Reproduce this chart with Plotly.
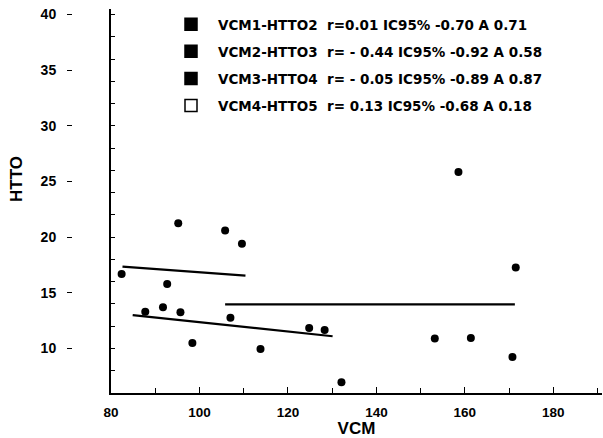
import plotly.graph_objects as go

# Scatter points (VCM, HTTO)
vcm = [82.4, 95.2, 105.8, 109.6, 92.7, 87.75, 91.75, 95.7, 107.0, 98.4,
       113.8, 124.8, 128.3, 132.1, 158.55, 171.5, 153.2, 161.35, 170.75]
htto = [16.7, 21.26, 20.6, 19.4, 15.8, 13.3, 13.7, 13.25, 12.75, 10.5,
        9.95, 11.85, 11.65, 6.96, 25.85, 17.27, 10.9, 10.95, 9.24]

# Regression lines (start/end)
line_a_x = [82.6, 110.4]
line_a_y = [17.35, 16.55]
line_b_x = [84.9, 130.1]
line_b_y = [13.0, 11.1]
line_c_x = [105.8, 171.3]
line_c_y = [13.97, 13.97]

NB = "\u00a0"
legend_labels = [
    f"VCM1-HTTO2{NB}{NB}r=0.01 IC95% -0.70 A 0.71",
    f"VCM2-HTTO3{NB}{NB}r= - 0.44 IC95% -0.92 A 0.58",
    f"VCM3-HTTO4{NB}{NB}r= - 0.05 IC95% -0.89 A 0.87",
    f"VCM4-HTTO5{NB}{NB}r= 0.13 IC95% -0.68 A 0.18",
]
legend_symbols = ["square", "square", "square", "square-open"]

y_ticks = [10, 15, 20, 25, 30, 35, 40]
x_ticks = [80, 100, 120, 140, 160, 180]

FONT = "Liberation Sans"
LFONT = "DejaVu Sans"
fig = go.Figure()

for lx, ly in [(line_a_x, line_a_y), (line_b_x, line_b_y), (line_c_x, line_c_y)]:
    fig.add_trace(go.Scatter(x=lx, y=ly, mode="lines", line=dict(color="black", width=2.2),
                             showlegend=False, hoverinfo="skip"))

fig.add_trace(go.Scatter(x=vcm, y=htto, mode="markers",
                         marker=dict(color="black", size=8, symbol="circle"),
                         showlegend=False))

for i, (lab, sym) in enumerate(zip(legend_labels, legend_symbols)):
    fig.add_trace(go.Scatter(x=[None], y=[None], mode="markers", name=lab,
                             legendgroup=f"g{i}", yaxis="y2",
                             marker=dict(color="black", size=12, symbol=sym,
                                         line=dict(color="black", width=1.5))))

W, H = 603, 438
ML, MR, MT, MB = 0, 1, 9, 45
plot_w = W - ML - MR
plot_h = H - MT - MB
x_left = 111

fig.update_layout(
    width=W, height=H,
    margin=dict(l=ML, r=MR, t=MT, b=MB),
    plot_bgcolor="white", paper_bgcolor="white",
    font=dict(family=FONT, color="black", size=14, weight="bold"),
    showlegend=True,
    legend=dict(x=164 / plot_w, y=1 - 0 / plot_h, xanchor="left", yanchor="top",
                bgcolor="rgba(0,0,0,0)", font=dict(size=13.5, weight="bold", family=LFONT),
                itemwidth=44, tracegroupgap=6.5),
    xaxis=dict(domain=[x_left / plot_w, 1], range=[80, 191], anchor="y",
               showline=True, linecolor="black", linewidth=1.5,
               showgrid=False, zeroline=False,
               tickmode="array", tickvals=x_ticks, ticktext=[str(v) for v in x_ticks],
               ticks="inside", ticklen=6, tickcolor="black",
               minor=dict(dtick=10, tick0=80, ticks="inside", ticklen=5, tickcolor="black"),
               tickfont=dict(size=13.5, weight="bold"),
               ticklabelstandoff=6,
               title=dict(text="VCM", font=dict(size=17, weight="bold"), standoff=3),
               automargin=False),
    yaxis=dict(range=[6, 40.5], anchor="x", showline=True, linecolor="black", linewidth=1.5,
               showgrid=False, zeroline=False, showticklabels=False,
               ticks="inside", ticklen=4, dtick=2, tick0=0, tickcolor="black",
               automargin=False),
    yaxis2=dict(range=[6, 40.5], overlaying="y", anchor="free", position=72 / plot_w,
                side="left", showline=False, showgrid=False, zeroline=False,
                tickmode="array", tickvals=y_ticks, ticktext=[str(v) for v in y_ticks],
                ticks="outside", ticklen=5, tickcolor="black",
                ticklabelstandoff=8,
                tickfont=dict(size=14, weight="bold"),
                automargin=False),
    annotations=[dict(text="HTTO", textangle=-90, xref="paper", yref="paper",
                      x=16 / plot_w, y=(plot_h + MT - 170) / plot_h - MT / plot_h + 0.0,
                      xanchor="center", yanchor="middle", showarrow=False,
                      font=dict(size=17, weight="bold", family=FONT))],
)

fig.write_html("out.html", config={"displayModeBar": False},
               post_script="document.body.style.margin='0';")
